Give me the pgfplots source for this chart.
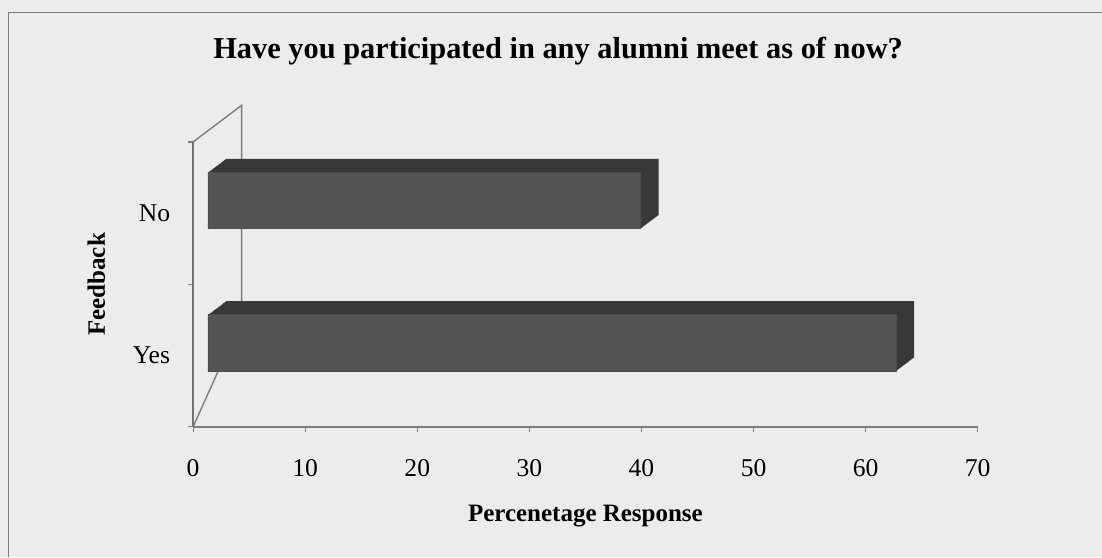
\documentclass[border=0pt]{standalone}
\usepackage{fontspec}
\setmainfont{Liberation Serif}
\usepackage{pgfplots}
\usepackage{pgfplotstable}
\pgfplotsset{compat=1.18}
\definecolor{paper}{RGB}{236,236,236}
\definecolor{barfront}{RGB}{84,84,84}
\definecolor{barside}{RGB}{56,56,56}
\definecolor{axisgray}{RGB}{125,125,125}

\pgfplotstableread{
y v
0 61.4
1 38.6
}\feedback

\begin{document}
\begin{tikzpicture}
\fill[paper] (0,0) rectangle (551pt,-278.5pt);
\draw[axisgray, line width=0.5pt] (4.2pt,-278.5pt) -- (4.2pt,-6.2pt) -- (551pt,-6.2pt);
\begin{axis}[
  at={(96.6pt,-213.5pt)}, anchor=south west,
  scale only axis, width=392.5pt, height=142.5pt,
  xmin=0, xmax=70, ymin=-0.5, ymax=1.5,
  clip=false,
  axis x line*=bottom, axis y line*=left,
  axis line style={axisgray, line width=0.7pt, -},
  xtick={0,10,...,70},
  ytick={-0.5,0.5,1.5}, yticklabels={},
  extra y ticks={0,1}, extra y tick labels={Yes,No},
  extra y tick style={major tick length=0pt},
  tick align=outside, major tick length=2.5pt,
  tick style={axisgray, line width=0.6pt},
  ticklabel style={font=\fontsize{12.8}{15}\selectfont},
  /pgf/number format/assume math mode=true,
  xticklabel style={yshift=-10.5pt},
  yticklabel style={xshift=-8pt},
  title={Have you participated in any alumni meet as of now?},
  title style={at={(axis description cs:0.4652,1.2523)}, anchor=base, yshift=0pt, font=\fontsize{15.2}{18}\selectfont\bfseries},
  xlabel={Percenetage Response},
  xlabel style={at={(axis description cs:0.5,-0.3144)}, anchor=center, font=\fontsize{12.5}{14}\selectfont\bfseries},
  ylabel={Feedback},
  ylabel style={at={(axis description cs:-0.1233,0.5)}, anchor=center, font=\fontsize{12.5}{14}\selectfont\bfseries},
]
\draw[axisgray, line width=0.7pt] (axis cs:0,1.5) -- ++(24.3pt,18.35pt) -- ++(0,-142.5pt) -- (axis cs:0,-0.5);
\draw[black!55, line width=0.7pt] (axis cs:0,-0.5) -- (axis cs:0,1.5);
\pgfplotsinvokeforeach{20,19,...,1}{
  \addplot[xbar, bar width=28.3pt, fill=barside, draw=none,
    xshift={7.4pt+#1*0.45pt}, yshift={6.3pt+#1*0.3375pt}]
    table[x=v, y=y] {\feedback};
}
\addplot[xbar, bar width=28.3pt, fill=barfront, draw=black!70, line width=0.4pt,
  xshift=7.4pt, yshift=6.3pt]
  table[x=v, y=y] {\feedback};
\end{axis}
\end{tikzpicture}
\end{document}
